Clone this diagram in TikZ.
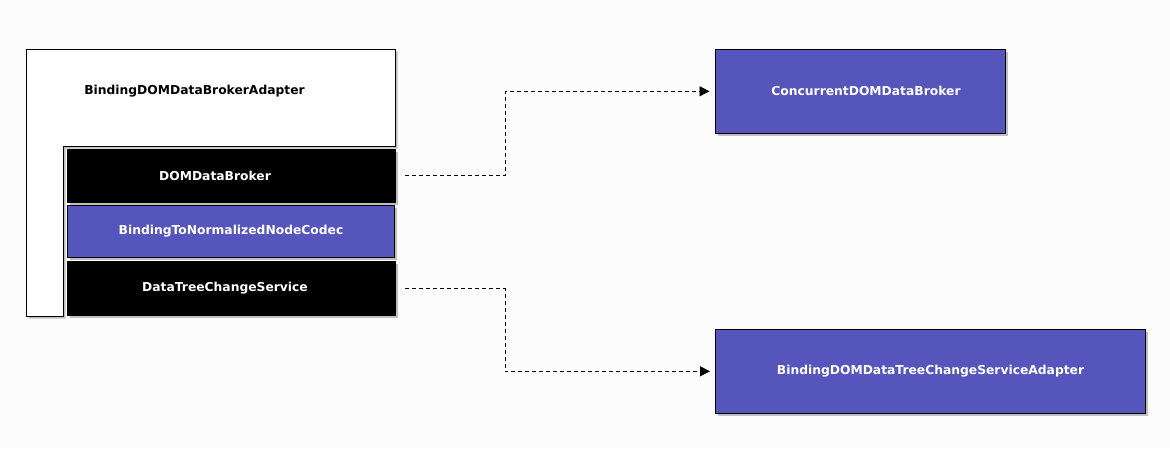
\documentclass[tikz,border=0pt]{standalone}
\usepackage{fontspec}
\setsansfont{DejaVu Sans}
\usetikzlibrary{arrows.meta}
\usetikzlibrary{shadows}
\pgfdeclarelayer{edgelayer}
\pgfdeclarelayer{nodelayer}
\pgfsetlayers{main,edgelayer,nodelayer}
\definecolor{boxblue}{RGB}{85,85,187}
\definecolor{bggrey}{RGB}{252,252,252}
\tikzstyle{shade}=[drop shadow={shadow xshift=2.5pt,shadow yshift=-2.5pt,fill=black!35,opacity=0.7}]
\tikzstyle{boxtext}=[font=\sffamily\bfseries\fontsize{12.3}{14}\selectfont]
\tikzstyle{darkbox}=[draw=black,fill=black,text=white,style=boxtext,style=shade,minimum width=328pt,inner sep=0pt]
\tikzstyle{bluebox}=[draw=black,line width=1pt,fill=boxblue,text=white,style=boxtext,style=shade,inner sep=0pt]
\tikzstyle{none}=[inner sep=0pt]
\tikzstyle{transition}=[-{Triangle[length=10pt,width=10pt]},draw=black,dash pattern=on 4pt off 3pt,line width=0.8pt]

\begin{document}
\begin{tikzpicture}[x=1pt,y=-1pt]
	\useasboundingbox [fill=bggrey] (0,0) rectangle (1170,448);
	\draw [fill=white,line width=1pt,style=shade] (26,49) -- (395,49) -- (395,146) -- (63,146) -- (63,316) -- (26,316) -- cycle;
	\begin{pgfonlayer}{nodelayer}
		\node [style=none,style=boxtext] (0) at (194.5,91) {BindingDOMDataBrokerAdapter};
		\node [style=darkbox,minimum height=53pt,label={[style=boxtext,text=white,xshift=-16pt]center:DOMDataBroker}] (1) at (231,175.5) {};
		\node [style=bluebox,minimum width=327pt,minimum height=52pt] (2) at (231,231.5) {BindingToNormalizedNodeCodec};
		\node [style=darkbox,minimum height=54pt,label={[style=boxtext,text=white,xshift=-6pt]center:DataTreeChangeService}] (3) at (231,288.5) {};
		\node [style=bluebox,minimum width=290pt,minimum height=84pt,text depth=0pt,xshift=0pt] (4) at (860,91.3) {\hspace*{12pt}ConcurrentDOMDataBroker};
		\node [style=bluebox,minimum width=430pt,minimum height=84pt] (5) at (930.5,371.3) {BindingDOMDataTreeChangeServiceAdapter};
	\end{pgfonlayer}
	\begin{pgfonlayer}{edgelayer}
		\draw [style=transition] ([xshift=10pt]1.east) -- ++(100,0) |- ([xshift=-5pt]4.west);
		\draw [style=transition] ([xshift=10pt]3.east) -- ++(100,0) |- ([xshift=-5pt]5.west);
	\end{pgfonlayer}
\end{tikzpicture}
\end{document}
